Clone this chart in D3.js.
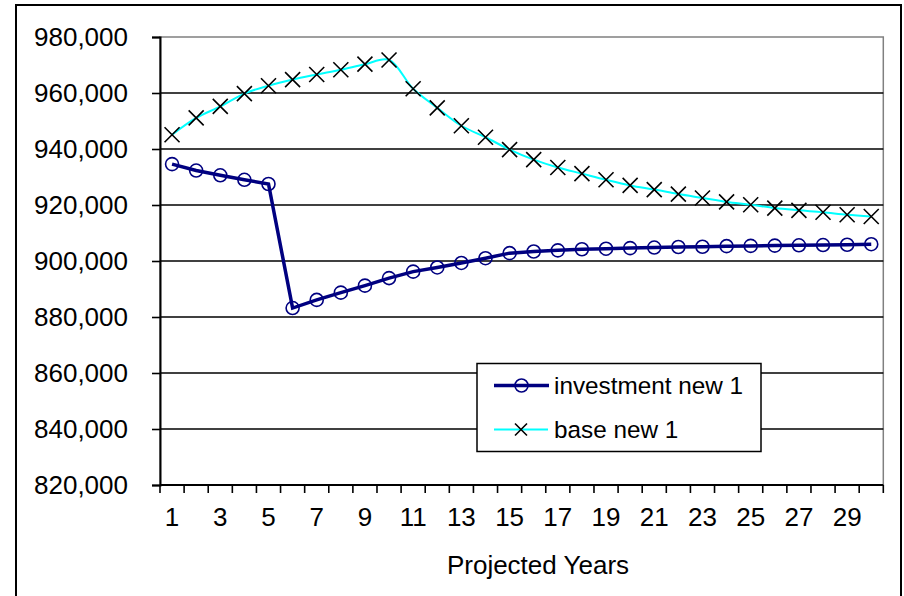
<!DOCTYPE html>
<html>
<head>
<meta charset="utf-8">
<script src="https://cdn.jsdelivr.net/npm/d3@7"></script>
<style>
  html, body { margin: 0; padding: 0; background: #fff; }
  svg { display: block; font-family: "Liberation Sans", Arial, sans-serif; }
</style>
</head>
<body>
<svg id="chart" width="904" height="596"></svg>
<script>
// Projected years 1..30
const years = d3.range(1, 31);
const yTicks = [820000, 840000, 860000, 880000, 900000, 920000, 940000, 960000, 980000];
const xTickLabels = years.filter(d => d % 2 === 1);

const investmentNew1 = [
  934600, 932300, 930600, 929000, 927500,
  883200, 886100, 888700, 891200, 893900,
  896200, 897700, 899300, 901000, 902800,
  903400, 903800, 904200, 904400, 904600,
  904800, 905000, 905100, 905300, 905400,
  905500, 905600, 905700, 905800, 906000
];
const baseNew1 = [
  945100, 951100, 955200, 959800, 962600,
  964800, 966600, 968300, 970300, 971800,
  961500, 954700, 948300, 944200, 939800,
  936200, 933400, 931200, 929000, 927000,
  925500, 923900, 922500, 921100, 920100,
  918900, 918100, 917400, 916500, 915900
];
const seriesNames = ["investment new 1", "base new 1"];

const svg = d3.select("#chart");
const plotL = 160, plotR = 883.3, plotT = 37, plotB = 485;
const axisFont = 26;

// chart frame
svg.append("rect")
  .attr("x", 16).attr("y", 5).attr("width", 885).attr("height", 640)
  .attr("fill", "none").attr("stroke", "#000").attr("stroke-width", 2);

const x = d3.scaleBand().domain(years).range([plotL, plotR]).padding(0);
const y = d3.scaleLinear().domain([820000, 980000]).range([plotB, plotT]);
const cx = d => x(d) + x.bandwidth() / 2;

// plot area border (grey)
svg.append("rect")
  .attr("x", plotL).attr("y", plotT).attr("width", plotR - plotL).attr("height", plotB - plotT)
  .attr("fill", "none").attr("stroke", "#808080").attr("stroke-width", 1.5);

// horizontal gridlines
svg.append("g").selectAll("line")
  .data(yTicks.filter(v => v > 820000 && v < 980000))
  .join("line")
  .attr("x1", plotL).attr("x2", plotR)
  .attr("y1", d => y(d)).attr("y2", d => y(d))
  .attr("stroke", "#000").attr("stroke-width", 1.6);

// y axis
const yAxis = d3.axisLeft(y).tickValues(yTicks).tickSize(8).tickPadding(24)
  .tickFormat(d3.format(","));
const gy = svg.append("g").attr("transform", `translate(${plotL},0)`).call(yAxis);
gy.select(".domain").attr("stroke", "#000").attr("stroke-width", 2);
gy.selectAll(".tick line").attr("stroke", "#000").attr("stroke-width", 1.6);
gy.selectAll(".tick text").attr("font-size", axisFont).attr("fill", "#000")
  .attr("font-family", "Liberation Sans, Arial, sans-serif");

// x axis: ticks on category boundaries, labels on odd years
const xEdge = d3.scaleLinear().domain([0, 30]).range([plotL, plotR]);
const gx = svg.append("g");
gx.append("line").attr("x1", plotL).attr("x2", plotR).attr("y1", plotB).attr("y2", plotB)
  .attr("stroke", "#000").attr("stroke-width", 2);
gx.selectAll("line.tk").data(d3.range(0, 31)).join("line").attr("class", "tk")
  .attr("x1", d => xEdge(d)).attr("x2", d => xEdge(d))
  .attr("y1", plotB).attr("y2", plotB + 8)
  .attr("stroke", "#000").attr("stroke-width", 1.6);
gx.selectAll("text").data(xTickLabels).join("text")
  .attr("x", d => cx(d)).attr("y", 526)
  .attr("text-anchor", "middle").attr("font-size", axisFont).attr("fill", "#000")
  .text(d => d);

svg.append("text").attr("x", 538).attr("y", 574).attr("text-anchor", "middle")
  .attr("font-size", axisFont).attr("fill", "#000").text("Projected Years");

// base series: smoothed cyan line with black x markers
const baseLine = d3.line().x((d, i) => cx(years[i])).y(d => y(d)).curve(d3.curveCatmullRom.alpha(0.5));
svg.append("path").attr("d", baseLine(baseNew1))
  .attr("fill", "none").attr("stroke", "#00FFFF").attr("stroke-width", 2);

const xMark = (g, px, py, r) => {
  g.append("path")
    .attr("d", `M${px - r},${py - r}L${px + r},${py + r}M${px - r},${py + r}L${px + r},${py - r}`)
    .attr("stroke", "#000").attr("stroke-width", 1.6).attr("fill", "none");
};
const gBase = svg.append("g");
baseNew1.forEach((v, i) => xMark(gBase, cx(years[i]), y(v), 7.5));

// investment series: navy line with open circle markers
const invLine = d3.line().x((d, i) => cx(years[i])).y(d => y(d));
svg.append("path").attr("d", invLine(investmentNew1))
  .attr("fill", "none").attr("stroke", "#000080").attr("stroke-width", 3.5)
  .attr("stroke-linejoin", "miter");
svg.append("g").selectAll("circle").data(investmentNew1).join("circle")
  .attr("cx", (d, i) => cx(years[i])).attr("cy", d => y(d)).attr("r", 6.5)
  .attr("fill", "none").attr("stroke", "#000080").attr("stroke-width", 1.6);

// legend
const lg = svg.append("g");
lg.append("rect").attr("x", 477).attr("y", 363.5).attr("width", 284).attr("height", 88)
  .attr("fill", "#fff").attr("stroke", "#000").attr("stroke-width", 1.5);
const rowY = [385.5, 429.5];
lg.append("line").attr("x1", 494).attr("x2", 549).attr("y1", rowY[0]).attr("y2", rowY[0])
  .attr("stroke", "#000080").attr("stroke-width", 3.5);
lg.append("circle").attr("cx", 521.5).attr("cy", rowY[0]).attr("r", 6.5)
  .attr("fill", "none").attr("stroke", "#000080").attr("stroke-width", 1.6);
lg.append("line").attr("x1", 494).attr("x2", 548).attr("y1", rowY[1]).attr("y2", rowY[1])
  .attr("stroke", "#00FFFF").attr("stroke-width", 2);
xMark(lg, 521, rowY[1], 6);
lg.selectAll("text").data(seriesNames).join("text")
  .attr("x", 554).attr("y", (d, i) => rowY[i] + 8.5)
  .attr("font-size", 24.3).attr("fill", "#000").text(d => d);
</script>
</body>
</html>
